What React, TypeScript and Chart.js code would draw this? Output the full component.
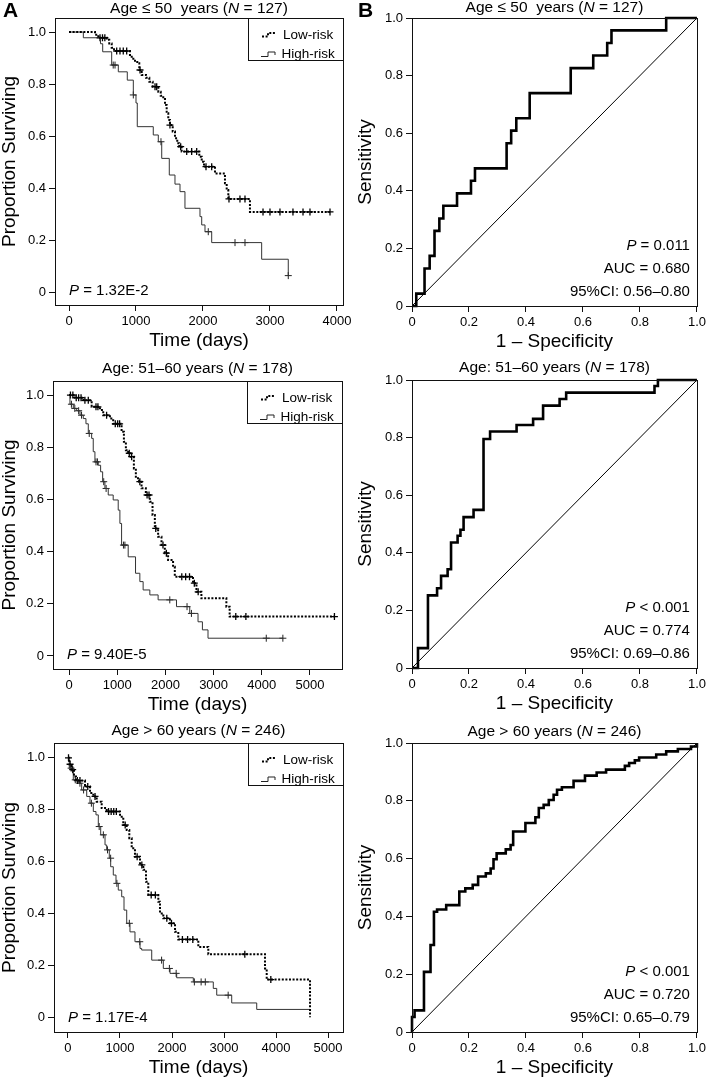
import React, { useEffect, useRef } from 'react';
import { Chart, registerables } from 'chart.js';

Chart.register(...registerables);

type Pt = [number, number];
type Seg = { t: string; i?: boolean };

// ---------- tick labels ----------
const PROB_TICKS = [0, 0.2, 0.4, 0.6, 0.8, 1.0];
const PROB_LABELS = ['0', '0.2', '0.4', '0.6', '0.8', '1.0'];
const TIME_TICKS_4K = [0, 1000, 2000, 3000, 4000];
const TIME_LABELS_4K = ['0', '1000', '2000', '3000', '4000'];
const TIME_TICKS_5K = [0, 1000, 2000, 3000, 4000, 5000];
const TIME_LABELS_5K = ['0', '1000', '2000', '3000', '4000', '5000'];

// ---------- Panel A1: Age <= 50 ----------
const a1Low: Pt[] = [[0, 1], [388, 0.99], [437, 0.978], [563, 0.97], [601, 0.956], [637, 0.94], [672, 0.927], [910, 0.905], [960, 0.89], [1019, 0.88], [1049, 0.854], [1085, 0.835], [1149, 0.824], [1199, 0.809], [1249, 0.79], [1333, 0.77], [1369, 0.755], [1407, 0.742], [1433, 0.719], [1458, 0.688], [1482, 0.662], [1507, 0.642], [1548, 0.617], [1582, 0.591], [1616, 0.572], [1646, 0.559], [1682, 0.54], [1945, 0.52], [1981, 0.501], [2015, 0.482], [2179, 0.456], [2328, 0.418], [2354, 0.392], [2378, 0.358], [2701, 0.308], [3896, 0.308]];
const a1LowCens: Pt[] = [[463, 0.978], [500, 0.978], [535, 0.978], [712, 0.927], [761, 0.927], [810, 0.927], [861, 0.927], [1060, 0.854], [1284, 0.79], [1309, 0.79], [1507, 0.642], [1667, 0.559], [1757, 0.54], [1831, 0.54], [1906, 0.54], [2045, 0.482], [2130, 0.482], [2388, 0.358], [2552, 0.358], [2627, 0.358], [2896, 0.308], [3000, 0.308], [3149, 0.308], [3343, 0.308], [3493, 0.308], [3597, 0.308], [3896, 0.308]];
const a1High: Pt[] = [[0, 1], [214, 0.978], [470, 0.955], [503, 0.924], [637, 0.873], [736, 0.847], [870, 0.815], [960, 0.758], [1000, 0.727], [1019, 0.636], [1258, 0.604], [1333, 0.578], [1384, 0.514], [1497, 0.45], [1582, 0.415], [1657, 0.386], [1731, 0.322], [1955, 0.29], [1981, 0.258], [2030, 0.232], [2130, 0.19], [2876, 0.126], [3273, 0.063]];
const a1HighCens: Pt[] = [[660, 0.873], [687, 0.873], [960, 0.758], [1373, 0.578], [2079, 0.232], [2478, 0.19], [2627, 0.19], [3273, 0.063]];

// ---------- Panel A2: Age 51-60 ----------
const a2Low: Pt[] = [[0, 1], [120, 0.99], [300, 0.98], [470, 0.955], [642, 0.943], [710, 0.923], [849, 0.91], [917, 0.89], [1091, 0.859], [1139, 0.821], [1180, 0.789], [1228, 0.777], [1277, 0.764], [1346, 0.719], [1387, 0.681], [1455, 0.668], [1505, 0.643], [1594, 0.617], [1677, 0.591], [1733, 0.54], [1781, 0.489], [1849, 0.457], [1919, 0.425], [1988, 0.394], [2056, 0.368], [2159, 0.342], [2195, 0.304], [2573, 0.279], [2644, 0.246], [2747, 0.221], [3265, 0.189], [3333, 0.151], [5507, 0.151]];
const a2LowCens: Pt[] = [[30, 1], [80, 1], [150, 0.99], [200, 0.99], [250, 0.99], [330, 0.98], [400, 0.98], [560, 0.955], [600, 0.955], [780, 0.923], [960, 0.89], [1010, 0.89], [1050, 0.89], [1250, 0.777], [1300, 0.764], [1470, 0.668], [1620, 0.617], [1660, 0.617], [1800, 0.489], [1950, 0.425], [2020, 0.394], [2340, 0.304], [2420, 0.304], [2500, 0.304], [2600, 0.279], [2680, 0.246], [3460, 0.151], [3670, 0.151], [5507, 0.151]];
const a2High: Pt[] = [[0, 1], [20, 0.965], [89, 0.949], [159, 0.94], [228, 0.923], [296, 0.91], [352, 0.89], [400, 0.853], [470, 0.834], [503, 0.783], [538, 0.744], [607, 0.731], [656, 0.706], [698, 0.668], [745, 0.642], [814, 0.617], [917, 0.598], [1021, 0.559], [1056, 0.508], [1091, 0.425], [1228, 0.38], [1380, 0.317], [1470, 0.285], [1538, 0.253], [1677, 0.234], [1849, 0.215], [2230, 0.189], [2505, 0.163], [2677, 0.131], [2768, 0.1], [2884, 0.068], [4437, 0.068]];
const a2HighCens: Pt[] = [[50, 0.965], [120, 0.949], [200, 0.94], [260, 0.923], [420, 0.853], [560, 0.744], [590, 0.744], [720, 0.668], [770, 0.642], [1130, 0.425], [1160, 0.425], [2091, 0.215], [2449, 0.189], [2540, 0.163], [4093, 0.068], [4437, 0.068]];

// ---------- Panel A3: Age > 60 ----------
const a3Low: Pt[] = [[0, 1], [25, 0.975], [71, 0.954], [115, 0.928], [154, 0.912], [327, 0.889], [423, 0.864], [487, 0.851], [552, 0.831], [648, 0.806], [744, 0.793], [1000, 0.773], [1063, 0.741], [1129, 0.722], [1179, 0.69], [1225, 0.651], [1288, 0.619], [1385, 0.587], [1448, 0.568], [1500, 0.522], [1544, 0.471], [1737, 0.445], [1769, 0.4], [1833, 0.381], [1962, 0.362], [2058, 0.329], [2121, 0.3], [2506, 0.271], [2698, 0.243], [3788, 0.188], [3821, 0.145], [4654, 0]];
const a3LowCens: Pt[] = [[10, 1], [40, 0.975], [90, 0.954], [180, 0.912], [230, 0.912], [380, 0.889], [520, 0.851], [780, 0.793], [830, 0.793], [880, 0.793], [930, 0.793], [1100, 0.741], [1330, 0.619], [1420, 0.587], [1600, 0.471], [1680, 0.471], [1900, 0.381], [1990, 0.362], [2200, 0.3], [2300, 0.3], [2400, 0.3], [3400, 0.243], [3900, 0.145]];
const a3High: Pt[] = [[0, 1], [25, 0.96], [102, 0.915], [198, 0.902], [263, 0.876], [360, 0.851], [423, 0.825], [487, 0.793], [538, 0.78], [583, 0.735], [629, 0.703], [712, 0.664], [744, 0.645], [794, 0.613], [821, 0.58], [871, 0.548], [923, 0.516], [967, 0.49], [1033, 0.464], [1077, 0.413], [1129, 0.362], [1192, 0.329], [1288, 0.291], [1385, 0.265], [1417, 0.259], [1610, 0.22], [1833, 0.188], [1962, 0.169], [2090, 0.152], [2410, 0.136], [2794, 0.111], [2860, 0.085], [3148, 0.055], [3629, 0.03], [4654, 0.03]];
const a3HighCens: Pt[] = [[60, 0.96], [140, 0.915], [230, 0.902], [300, 0.876], [450, 0.825], [600, 0.735], [680, 0.703], [760, 0.645], [820, 0.613], [940, 0.516], [1180, 0.362], [1380, 0.291], [1800, 0.22], [1950, 0.188], [2080, 0.169], [2430, 0.136], [2560, 0.136], [2640, 0.136], [3080, 0.085]];

// ---------- ROC curves (1 - specificity, sensitivity) ----------
const b1Roc: Pt[] = [[0, 0], [0.015, 0.043], [0.044, 0.13], [0.062, 0.174], [0.079, 0.261], [0.096, 0.304], [0.11, 0.348], [0.158, 0.391], [0.207, 0.435], [0.221, 0.478], [0.332, 0.565], [0.348, 0.609], [0.366, 0.652], [0.413, 0.739], [0.557, 0.826], [0.636, 0.87], [0.685, 0.913], [0.7, 0.957], [0.892, 1.0], [1.0, 1.0]];
const b2Roc: Pt[] = [[0, 0], [0.021, 0.069], [0.056, 0.252], [0.088, 0.277], [0.102, 0.32], [0.125, 0.343], [0.137, 0.436], [0.16, 0.459], [0.17, 0.48], [0.181, 0.524], [0.216, 0.549], [0.251, 0.795], [0.274, 0.821], [0.367, 0.844], [0.425, 0.865], [0.46, 0.911], [0.518, 0.934], [0.541, 0.956], [0.851, 0.979], [0.863, 1.0], [1.0, 1.0]];
const b3Roc: Pt[] = [[0, 0], [0, 0.052], [0.009, 0.075], [0.042, 0.208], [0.065, 0.301], [0.077, 0.416], [0.088, 0.424], [0.12, 0.439], [0.166, 0.486], [0.187, 0.497], [0.213, 0.509], [0.232, 0.538], [0.259, 0.549], [0.276, 0.566], [0.286, 0.598], [0.297, 0.618], [0.329, 0.632], [0.346, 0.647], [0.355, 0.694], [0.398, 0.723], [0.433, 0.743], [0.445, 0.775], [0.462, 0.786], [0.48, 0.803], [0.497, 0.821], [0.509, 0.838], [0.526, 0.847], [0.567, 0.869], [0.607, 0.887], [0.648, 0.898], [0.681, 0.908], [0.747, 0.921], [0.762, 0.931], [0.782, 0.94], [0.797, 0.95], [0.857, 0.96], [0.892, 0.971], [0.933, 0.979], [0.979, 0.988], [1.0, 1.0]];
const DIAGONAL: Pt[] = [[0, 0], [1, 1]];

// ---------- texts ----------
const TITLE_1: Seg[] = [{ t: 'Age \u2264 50  years (' }, { t: 'N', i: true }, { t: ' = 127)' }];
const TITLE_2: Seg[] = [{ t: 'Age: 51\u201360 years (' }, { t: 'N', i: true }, { t: ' = 178)' }];
const TITLE_3: Seg[] = [{ t: 'Age > 60 years (' }, { t: 'N', i: true }, { t: ' = 246)' }];
const P_A1: Seg[] = [{ t: 'P', i: true }, { t: ' = 1.32E-2' }];
const P_A2: Seg[] = [{ t: 'P', i: true }, { t: ' = 9.40E-5' }];
const P_A3: Seg[] = [{ t: 'P', i: true }, { t: ' = 1.17E-4' }];
const NOTES_B1: Seg[][] = [[{ t: 'P', i: true }, { t: ' = 0.011' }], [{ t: 'AUC = 0.680' }], [{ t: '95%CI: 0.56\u20130.80' }]];
const NOTES_B2: Seg[][] = [[{ t: 'P', i: true }, { t: ' < 0.001' }], [{ t: 'AUC = 0.774' }], [{ t: '95%CI: 0.69\u20130.86' }]];
const NOTES_B3: Seg[][] = [[{ t: 'P', i: true }, { t: ' < 0.001' }], [{ t: 'AUC = 0.720' }], [{ t: '95%CI: 0.65\u20130.79' }]];

const FONT = '"Liberation Sans", Arial, Helvetica, sans-serif';

interface Rect { left: number; top: number; width: number; height: number }
interface Box { left: number; top: number; right: number; bottom: number }
interface Spec {
  kind: 'km' | 'roc';
  letter?: string;
  cv: Rect;
  box: Box;
  title: Seg[];
  titleBase: number;
  xMin: number; xMax: number; yMin: number; yMax: number;
  xTicks: number[]; xLabels: string[];
  low?: Pt[]; high?: Pt[]; lowC?: Pt[]; highC?: Pt[]; pText?: Seg[];
  roc?: Pt[]; notes?: Seg[][];
}

const SPECS: Spec[] = [
  { kind: 'km', letter: 'A', cv: { left: 0, top: 0, width: 355, height: 360 }, box: { left: 55, top: 18, right: 343, bottom: 305 }, title: TITLE_1, titleBase: 12.5, xMin: -209, xMax: 4090, yMin: -0.05, yMax: 1.054, xTicks: TIME_TICKS_4K, xLabels: TIME_LABELS_4K, low: a1Low, high: a1High, lowC: a1LowCens, highC: a1HighCens, pText: P_A1 },
  { kind: 'roc', letter: 'B', cv: { left: 355, top: 0, width: 354, height: 360 }, box: { left: 412, top: 18, right: 699, bottom: 306 }, title: TITLE_1, titleBase: 12, xMin: 0, xMax: 1, yMin: 0, yMax: 1, xTicks: PROB_TICKS, xLabels: PROB_LABELS, roc: b1Roc, notes: NOTES_B1 },
  { kind: 'km', cv: { left: 0, top: 352, width: 355, height: 370 }, box: { left: 53, top: 381, right: 342, bottom: 669 }, title: TITLE_2, titleBase: 372.7, xMin: -332, xMax: 5664, yMin: -0.05, yMax: 1.054, xTicks: TIME_TICKS_5K, xLabels: TIME_LABELS_5K, low: a2Low, high: a2High, lowC: a2LowCens, highC: a2HighCens, pText: P_A2 },
  { kind: 'roc', cv: { left: 355, top: 352, width: 354, height: 370 }, box: { left: 412, top: 380, right: 699, bottom: 668 }, title: TITLE_2, titleBase: 372, xMin: 0, xMax: 1, yMin: 0, yMax: 1, xTicks: PROB_TICKS, xLabels: PROB_LABELS, roc: b2Roc, notes: NOTES_B2 },
  { kind: 'km', cv: { left: 0, top: 712, width: 355, height: 367 }, box: { left: 54, top: 743, right: 343, bottom: 1032 }, title: TITLE_3, titleBase: 735, xMin: -269, xMax: 5288, yMin: -0.057, yMax: 1.057, xTicks: TIME_TICKS_5K, xLabels: TIME_LABELS_5K, low: a3Low, high: a3High, lowC: a3LowCens, highC: a3HighCens, pText: P_A3 },
  { kind: 'roc', cv: { left: 355, top: 712, width: 354, height: 367 }, box: { left: 412, top: 743, right: 699, bottom: 1032 }, title: TITLE_3, titleBase: 736, xMin: 0, xMax: 1, yMin: 0, yMax: 1, xTicks: PROB_TICKS, xLabels: PROB_LABELS, roc: b3Roc, notes: NOTES_B3 },
];

const toXY = (pts: Pt[]) => pts.map(([x, y]) => ({ x, y }));

function drawSegs(ctx: CanvasRenderingContext2D, segs: Seg[], x: number, y: number, size: number, align: 'left' | 'center' | 'right', weight = '') {
  const fontOf = (s: Seg) => `${s.i ? 'italic ' : ''}${weight ? weight + ' ' : ''}${size}px ${FONT}`;
  const widths = segs.map((s) => { ctx.font = fontOf(s); return ctx.measureText(s.t).width; });
  const total = widths.reduce((a, b) => a + b, 0);
  let cx = align === 'left' ? x : align === 'center' ? x - total / 2 : x - total;
  ctx.textAlign = 'left';
  ctx.textBaseline = 'alphabetic';
  ctx.fillStyle = '#000';
  segs.forEach((s, k) => { ctx.font = fontOf(s); ctx.fillText(s.t, cx, y); cx += widths[k]; });
}

function buildConfig(p: Spec): any {
  const padTop = p.box.top - p.cv.top;
  const padRight = p.cv.left + p.cv.width - p.box.right;
  const yW = p.box.left - p.cv.left;
  const cvBottom = p.cv.top + p.cv.height;
  const xTitleCenter = p.box.bottom + 35.5;
  const padBottom = cvBottom - xTitleCenter - 9.5;
  const xH = cvBottom - padBottom - p.box.bottom;
  const isKm = p.kind === 'km';

  const datasets: any[] = [];
  if (isKm) {
    datasets.push(
      { data: toXY(p.low!), stepped: 'before', borderColor: '#000', borderWidth: 2, borderDash: [2, 1.6], borderCapStyle: 'butt', pointRadius: 0, fill: false },
      { data: toXY(p.high!), stepped: 'before', borderColor: '#333', borderWidth: 1, pointRadius: 0, fill: false },
      { data: toXY(p.lowC!), showLine: false, pointStyle: 'cross', pointRadius: 3.5, pointBorderColor: '#000', pointBorderWidth: 1.3 },
      { data: toXY(p.highC!), showLine: false, pointStyle: 'cross', pointRadius: 3.5, pointBorderColor: '#222', pointBorderWidth: 1 },
    );
  } else {
    datasets.push(
      { data: toXY(DIAGONAL), borderColor: '#000', borderWidth: 1, pointRadius: 0, fill: false, clip: 4 },
      { data: toXY(p.roc!), stepped: 'before', borderColor: '#000', borderWidth: 2.6, pointRadius: 0, fill: false, clip: 4, borderJoinStyle: 'miter' },
    );
  }

  const tickFont = { family: FONT, size: 13 };
  const titleFont = { family: FONT, size: 19, lineHeight: 1 };

  const deco = {
    id: 'deco',
    afterDraw(chart: any) {
      const ctx: CanvasRenderingContext2D = chart.ctx;
      const { left, top, right, bottom } = chart.chartArea;
      ctx.save();
      ctx.strokeStyle = '#111';
      ctx.lineWidth = 1;
      ctx.setLineDash([]);
      ctx.strokeRect(Math.round(left) + 0.5, Math.round(top) + 0.5, Math.round(right - left), Math.round(bottom - top));
      // title
      drawSegs(ctx, p.title, (left + right) / 2, p.titleBase - p.cv.top, 15.5, 'center');
      if (p.letter) {
        ctx.font = `bold 21px ${FONT}`;
        ctx.fillStyle = '#000';
        ctx.textAlign = 'left';
        ctx.textBaseline = 'alphabetic';
        ctx.fillText(p.letter, 3, 16.8);
      }
      if (isKm) {
        drawSegs(ctx, p.pText!, left + 14, bottom - 10, 15, 'left');
        // legend box
        const lw = 95, lh = 42;
        const lx = Math.round(right) - lw;
        const ly = Math.round(top);
        ctx.fillStyle = '#fff';
        ctx.fillRect(lx + 0.5, ly + 0.5, lw, lh);
        ctx.strokeStyle = '#111';
        ctx.lineWidth = 1;
        ctx.strokeRect(lx + 0.5, ly + 0.5, lw, lh);
        // low-risk symbol (dotted step)
        ctx.beginPath();
        ctx.setLineDash([2, 1.6]);
        ctx.lineWidth = 2;
        ctx.strokeStyle = '#000';
        ctx.moveTo(right - 81, top + 18.5);
        ctx.lineTo(right - 75, top + 18.5);
        ctx.lineTo(right - 75, top + 15);
        ctx.lineTo(right - 67, top + 15);
        ctx.stroke();
        // high-risk symbol (solid step)
        ctx.beginPath();
        ctx.setLineDash([]);
        ctx.lineWidth = 1;
        ctx.strokeStyle = '#222';
        ctx.moveTo(right - 82, top + 38.5);
        ctx.lineTo(right - 75, top + 38.5);
        ctx.lineTo(right - 75, top + 34);
        ctx.lineTo(right - 68, top + 34);
        ctx.lineTo(right - 68, top + 37);
        ctx.stroke();
        drawSegs(ctx, [{ t: 'Low-risk' }], right - 60, top + 21, 13.5, 'left');
        drawSegs(ctx, [{ t: 'High-risk' }], right - 61.5, top + 40, 13.5, 'left');
      } else {
        const bases = [56, 33.5, 10.5];
        p.notes!.forEach((segs, k) => drawSegs(ctx, segs, right - 7, bottom - bases[k], 15, 'right'));
      }
      ctx.restore();
    },
  };

  return {
    type: 'line',
    data: { datasets },
    plugins: [deco],
    options: {
      animation: false,
      responsive: false,
      devicePixelRatio: 1,
      events: [],
      layout: { padding: { top: padTop, right: padRight, bottom: padBottom, left: 0 } },
      plugins: { legend: { display: false }, tooltip: { enabled: false }, title: { display: false } },
      elements: { line: { tension: 0 }, point: { radius: 0 } },
      scales: {
        x: {
          type: 'linear',
          min: p.xMin,
          max: p.xMax,
          offset: false,
          afterBuildTicks: (s: any) => { s.ticks = p.xTicks.map((v) => ({ value: v })); },
          afterFit: (s: any) => { s.height = xH; },
          ticks: { autoSkip: false, maxRotation: 0, minRotation: 0, padding: 3, color: '#000', font: tickFont, callback: (_v: any, i: number) => p.xLabels[i] },
          grid: { display: true, drawOnChartArea: false, drawTicks: true, tickLength: 6, color: '#111', lineWidth: 1 },
          border: { display: true, color: '#111', width: 1 },
          title: { display: true, text: isKm ? 'Time (days)' : '1 \u2013 Specificity', color: '#000', font: titleFont, padding: { top: 0, bottom: 0 } },
        },
        y: {
          type: 'linear',
          min: p.yMin,
          max: p.yMax,
          afterBuildTicks: (s: any) => { s.ticks = PROB_TICKS.map((v) => ({ value: v })); },
          afterFit: (s: any) => { s.width = yW; },
          ticks: { autoSkip: false, padding: 3, color: '#000', font: tickFont, callback: (_v: any, i: number) => PROB_LABELS[i] },
          grid: { display: true, drawOnChartArea: false, drawTicks: true, tickLength: 6, color: '#111', lineWidth: 1 },
          border: { display: true, color: '#111', width: 1 },
          title: { display: true, text: isKm ? 'Proportion Surviving' : 'Sensitivity', color: '#000', font: titleFont, padding: { top: isKm ? 0 : 1.5, bottom: 0 } },
        },
      },
    },
  };
}

function Panel({ spec }: { spec: Spec }) {
  const ref = useRef<HTMLCanvasElement>(null);
  useEffect(() => {
    if (!ref.current) return;
    const chart = new Chart(ref.current, buildConfig(spec));
    return () => chart.destroy();
  }, [spec]);
  return (
    <canvas
      ref={ref}
      width={spec.cv.width}
      height={spec.cv.height}
      style={{ position: 'absolute', left: spec.cv.left, top: spec.cv.top, width: spec.cv.width, height: spec.cv.height }}
    />
  );
}

export default function App() {
  return (
    <div style={{ position: 'absolute', left: 0, top: 0, width: 709, height: 1079, overflow: 'hidden', background: '#fff' }}>
      {SPECS.map((s, k) => (
        <Panel key={k} spec={s} />
      ))}
    </div>
  );
}
